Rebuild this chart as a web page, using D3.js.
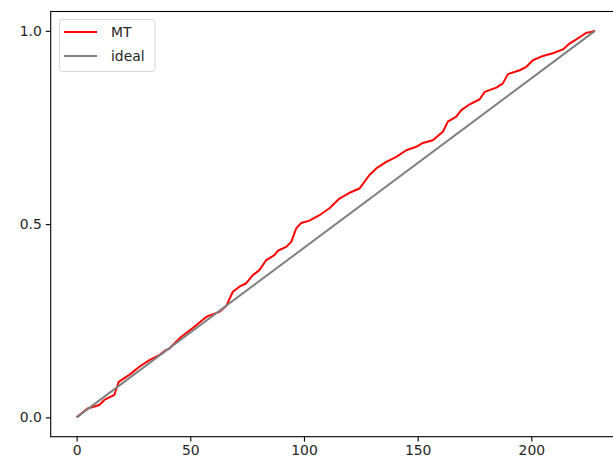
<!DOCTYPE html>
<html lang="en">
	<head>
		<meta charset="utf-8">
		<title>MT vs ideal</title>
		<style type="text/css">
			body { margin: 0; background: #fff; }
			text { font-family: "DejaVu Sans", sans-serif; }
		</style>
	</head>
	<body>
		<script src="https://cdn.jsdelivr.net/npm/d3@7"></script>
		<script type="text/javascript">
			//Width and height
			var w = 613;
			var h = 466;

			//Data: index positions and cumulative values of MT
			var mtX = [0, 4.8, 10, 12.2, 16.6, 18.5, 23.2, 27.6, 32, 36.4, 39.3, 40.8, 45.9, 51.1,
						56.2, 57.7, 62.8, 65.8, 68.7, 71.6, 74.6, 75.7, 77.5, 80.4, 83.4, 87, 88.5,
						92.2, 94.4, 96.6, 98.8, 102.4, 106.8, 111.2, 115.6, 120, 124.4, 128.8, 131.8,
						136.2, 140.6, 145, 149.4, 152.3, 156.7, 161.1, 163.3, 167, 169.2, 172.9,
						177.3, 179.5, 184.6, 187.5, 189.7, 194.9, 197.8, 200.7, 205.1, 209.5, 213.9,
						216.8, 219.8, 224.2, 226.4, 228];
			var mtY = [0, 0.023, 0.032, 0.045, 0.058, 0.092, 0.11, 0.131, 0.148, 0.161, 0.174, 0.178,
						0.208, 0.231, 0.256, 0.262, 0.273, 0.288, 0.325, 0.338, 0.347, 0.355, 0.368,
						0.381, 0.407, 0.42, 0.431, 0.441, 0.454, 0.489, 0.503, 0.509, 0.523, 0.541,
						0.566, 0.581, 0.592, 0.627, 0.644, 0.661, 0.674, 0.691, 0.7, 0.71, 0.717,
						0.739, 0.765, 0.778, 0.795, 0.81, 0.823, 0.842, 0.853, 0.864, 0.888, 0.898,
						0.907, 0.924, 0.935, 0.942, 0.952, 0.967, 0.978, 0.995, 0.997, 1.0];
			var idealX = [0, 228];
			var idealY = [0, 1];
			var xTicks = [0, 50, 100, 150, 200];
			var yTicks = [0.0, 0.5, 1.0];
			var seriesNames = ["MT", "ideal"];
			var seriesColors = ["#ff0000", "#808080"];

			//Create scale functions
			var xScale = d3.scaleLinear()
							.domain([-11.4, 239.4])
							.range([50.7, 620.9]);
			var yScale = d3.scaleLinear()
							.domain([-0.05, 1.05])
							.range([436.7, 11.5]);

			//Create SVG element
			var svg = d3.select("body")
						.append("svg")
						.attr("width", w)
						.attr("height", h);

			var line = d3.line()
						.x(function(d) { return xScale(d[0]); })
						.y(function(d) { return yScale(d[1]); });

			var mtData = d3.zip(mtX, mtY);
			var idealData = d3.zip(idealX, idealY);

			svg.append("path")
				.datum(mtData)
				.attr("d", line)
				.attr("fill", "none")
				.attr("stroke", seriesColors[0])
				.attr("stroke-width", 2)
				.attr("stroke-linejoin", "round");

			svg.append("path")
				.datum(idealData)
				.attr("d", line)
				.attr("fill", "none")
				.attr("stroke", seriesColors[1])
				.attr("stroke-width", 2);

			//Axes
			var xAxis = d3.axisBottom(xScale)
						.tickValues(xTicks)
						.tickFormat(d3.format("d"))
						.tickSizeInner(4.9)
						.tickSizeOuter(0)
						.tickPadding(4);
			var yAxis = d3.axisLeft(yScale)
						.tickValues(yTicks)
						.tickFormat(d3.format(".1f"))
						.tickSizeInner(4.9)
						.tickSizeOuter(0)
						.tickPadding(4);

			var gx = svg.append("g")
						.attr("transform", "translate(0," + yScale(-0.05) + ")")
						.call(xAxis);
			var gy = svg.append("g")
						.attr("transform", "translate(" + xScale(-11.4) + ",0)")
						.call(yAxis);

			[gx, gy].forEach(function(g) {
				g.select(".domain").remove();
				g.selectAll("line").attr("stroke", "#000").attr("stroke-width", 1.1);
				g.selectAll("text")
					.attr("font-family", "DejaVu Sans, sans-serif")
					.attr("font-size", "13.9px")
					.attr("fill", "#262626");
			});

			//Frame
			svg.append("rect")
				.attr("x", xScale(-11.4))
				.attr("y", yScale(1.05))
				.attr("width", xScale(239.4) - xScale(-11.4))
				.attr("height", yScale(-0.05) - yScale(1.05))
				.attr("fill", "none")
				.attr("stroke", "#000")
				.attr("stroke-width", 1.1);

			//Legend
			var legend = svg.append("g");
			legend.append("rect")
				.attr("x", 59.5)
				.attr("y", 19.5)
				.attr("width", 95.5)
				.attr("height", 52)
				.attr("rx", 3)
				.attr("fill", "#fff")
				.attr("fill-opacity", 0.8)
				.attr("stroke", "#d6d6d6")
				.attr("stroke-width", 1);

			seriesNames.forEach(function(name, i) {
				var ly = 32 + i * 24;
				legend.append("line")
					.attr("x1", 64)
					.attr("x2", 97)
					.attr("y1", ly)
					.attr("y2", ly)
					.attr("stroke", seriesColors[i])
					.attr("stroke-width", 2);
				legend.append("text")
					.attr("x", 111)
					.attr("y", ly)
					.attr("dy", "0.35em")
					.attr("font-size", "13.9px")
					.attr("fill", "#262626")
					.text(name);
			});
		</script>
	</body>
</html>
